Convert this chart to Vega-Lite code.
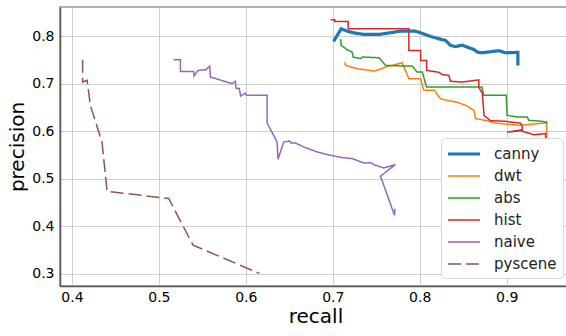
{
  "$schema": "https://vega.github.io/schema/vega-lite/v6.json",
  "width": 511,
  "height": 279,
  "autosize": {"type": "none"},
  "padding": {"left": 60, "top": 7, "right": 0, "bottom": 50},
  "background": "white",
  "config": {
    "font": "DejaVu Sans",
    "view": {"stroke": "#b0b0b0", "strokeWidth": 2},
    "axis": {
      "grid": true, "gridColor": "#cfcfcf", "gridWidth": 1,
      "ticks": false, "domainColor": "#555555", "domainWidth": 1.5,
      "labelFont": "DejaVu Sans", "labelFontSize": 14, "labelColor": "#000000",
      "titleFont": "DejaVu Sans", "titleFontSize": 20, "titleFontWeight": "normal", "titleColor": "#000000"
    },
    "legend": {
      "orient": "bottom-right", "offset": 8, "fillColor": "white", "strokeColor": "#d8d8d8",
      "cornerRadius": 4, "padding": 6, "labelFont": "DejaVu Sans", "labelFontSize": 15,
      "labelColor": "#222222", "symbolSize": 256, "symbolType": "M-1.125,0H2.875", "symbolFillColor": "transparent",
      "rowPadding": 5, "labelOffset": 27, "title": null
    }
  },
  "data": {"values": [
    {"s":"canny","i":0,"r":0.701,"p":0.789},
    {"s":"canny","i":1,"r":0.7097,"p":0.8155},
    {"s":"canny","i":2,"r":0.7166,"p":0.8105},
    {"s":"canny","i":3,"r":0.724,"p":0.807},
    {"s":"canny","i":4,"r":0.7357,"p":0.8036},
    {"s":"canny","i":5,"r":0.753,"p":0.8036},
    {"s":"canny","i":6,"r":0.766,"p":0.807},
    {"s":"canny","i":7,"r":0.778,"p":0.8105},
    {"s":"canny","i":8,"r":0.795,"p":0.8105},
    {"s":"canny","i":9,"r":0.801,"p":0.807},
    {"s":"canny","i":10,"r":0.8124,"p":0.7994},
    {"s":"canny","i":11,"r":0.824,"p":0.7935},
    {"s":"canny","i":12,"r":0.8297,"p":0.791},
    {"s":"canny","i":13,"r":0.8355,"p":0.7805},
    {"s":"canny","i":14,"r":0.841,"p":0.778},
    {"s":"canny","i":15,"r":0.849,"p":0.781},
    {"s":"canny","i":16,"r":0.8565,"p":0.7756},
    {"s":"canny","i":17,"r":0.8623,"p":0.772},
    {"s":"canny","i":18,"r":0.8662,"p":0.7664},
    {"s":"canny","i":19,"r":0.872,"p":0.765},
    {"s":"canny","i":20,"r":0.8815,"p":0.7672},
    {"s":"canny","i":21,"r":0.891,"p":0.7693},
    {"s":"canny","i":22,"r":0.8987,"p":0.765},
    {"s":"canny","i":23,"r":0.9129,"p":0.7658},
    {"s":"canny","i":24,"r":0.9129,"p":0.7384},

    {"s":"dwt","i":0,"r":0.7138,"p":0.7454},
    {"s":"dwt","i":1,"r":0.7146,"p":0.7385},
    {"s":"dwt","i":2,"r":0.728,"p":0.7315},
    {"s":"dwt","i":3,"r":0.748,"p":0.7265},
    {"s":"dwt","i":4,"r":0.7607,"p":0.735},
    {"s":"dwt","i":5,"r":0.7798,"p":0.7441},
    {"s":"dwt","i":6,"r":0.7875,"p":0.7105},
    {"s":"dwt","i":7,"r":0.801,"p":0.7105},
    {"s":"dwt","i":8,"r":0.8047,"p":0.686},
    {"s":"dwt","i":9,"r":0.817,"p":0.686},
    {"s":"dwt","i":10,"r":0.824,"p":0.668},
    {"s":"dwt","i":11,"r":0.8355,"p":0.6634},
    {"s":"dwt","i":12,"r":0.843,"p":0.661},
    {"s":"dwt","i":13,"r":0.853,"p":0.6544},
    {"s":"dwt","i":14,"r":0.8623,"p":0.644},
    {"s":"dwt","i":15,"r":0.8642,"p":0.6265},
    {"s":"dwt","i":16,"r":0.8777,"p":0.622},
    {"s":"dwt","i":17,"r":0.8853,"p":0.6175},
    {"s":"dwt","i":18,"r":0.9007,"p":0.6145},
    {"s":"dwt","i":19,"r":0.916,"p":0.6124},
    {"s":"dwt","i":20,"r":0.93,"p":0.615},
    {"s":"dwt","i":21,"r":0.946,"p":0.6175},
    {"s":"dwt","i":22,"r":0.946,"p":0.581},

    {"s":"abs","i":0,"r":0.709,"p":0.794},
    {"s":"abs","i":1,"r":0.7097,"p":0.7805},
    {"s":"abs","i":2,"r":0.7166,"p":0.7714},
    {"s":"abs","i":3,"r":0.7223,"p":0.7664},
    {"s":"abs","i":4,"r":0.7235,"p":0.756},
    {"s":"abs","i":5,"r":0.7319,"p":0.7525},
    {"s":"abs","i":6,"r":0.734,"p":0.756},
    {"s":"abs","i":7,"r":0.753,"p":0.7546},
    {"s":"abs","i":8,"r":0.7607,"p":0.7385},
    {"s":"abs","i":9,"r":0.7817,"p":0.737},
    {"s":"abs","i":10,"r":0.7914,"p":0.737},
    {"s":"abs","i":11,"r":0.797,"p":0.7244},
    {"s":"abs","i":12,"r":0.803,"p":0.7244},
    {"s":"abs","i":13,"r":0.8078,"p":0.693},
    {"s":"abs","i":14,"r":0.8715,"p":0.693},
    {"s":"abs","i":15,"r":0.8737,"p":0.6754},
    {"s":"abs","i":16,"r":0.8995,"p":0.6754},
    {"s":"abs","i":17,"r":0.9005,"p":0.6334},
    {"s":"abs","i":18,"r":0.912,"p":0.63},
    {"s":"abs","i":19,"r":0.9237,"p":0.63},
    {"s":"abs","i":20,"r":0.9255,"p":0.6229},
    {"s":"abs","i":21,"r":0.937,"p":0.6214},
    {"s":"abs","i":22,"r":0.946,"p":0.6193},
    {"s":"abs","i":23,"r":0.946,"p":0.615},

    {"s":"hist","i":0,"r":0.6976,"p":0.8344},
    {"s":"hist","i":1,"r":0.7023,"p":0.8344},
    {"s":"hist","i":2,"r":0.7023,"p":0.831},
    {"s":"hist","i":3,"r":0.7177,"p":0.831},
    {"s":"hist","i":4,"r":0.7177,"p":0.8155},
    {"s":"hist","i":5,"r":0.7875,"p":0.8155},
    {"s":"hist","i":6,"r":0.7875,"p":0.77},
    {"s":"hist","i":7,"r":0.801,"p":0.77},
    {"s":"hist","i":8,"r":0.801,"p":0.749},
    {"s":"hist","i":9,"r":0.808,"p":0.749},
    {"s":"hist","i":10,"r":0.808,"p":0.728},
    {"s":"hist","i":11,"r":0.822,"p":0.724},
    {"s":"hist","i":12,"r":0.826,"p":0.719},
    {"s":"hist","i":13,"r":0.8335,"p":0.7175},
    {"s":"hist","i":14,"r":0.8355,"p":0.705},
    {"s":"hist","i":15,"r":0.849,"p":0.7034},
    {"s":"hist","i":16,"r":0.868,"p":0.708},
    {"s":"hist","i":17,"r":0.868,"p":0.692},
    {"s":"hist","i":18,"r":0.872,"p":0.68},
    {"s":"hist","i":19,"r":0.874,"p":0.633},
    {"s":"hist","i":20,"r":0.8815,"p":0.622},
    {"s":"hist","i":21,"r":0.8968,"p":0.621},
    {"s":"hist","i":22,"r":0.916,"p":0.617},
    {"s":"hist","i":23,"r":0.918,"p":0.61},
    {"s":"hist","i":24,"r":0.918,"p":0.603},
    {"s":"hist","i":25,"r":0.9007,"p":0.598},
    {"s":"hist","i":26,"r":0.916,"p":0.601},
    {"s":"hist","i":27,"r":0.9313,"p":0.5925},
    {"s":"hist","i":28,"r":0.9448,"p":0.595},
    {"s":"hist","i":29,"r":0.9448,"p":0.581},

    {"s":"naive","i":0,"r":0.517,"p":0.7504},
    {"s":"naive","i":1,"r":0.5248,"p":0.7504},
    {"s":"naive","i":2,"r":0.5248,"p":0.7258},
    {"s":"naive","i":3,"r":0.54,"p":0.7258},
    {"s":"naive","i":4,"r":0.5405,"p":0.716},
    {"s":"naive","i":5,"r":0.5445,"p":0.727},
    {"s":"naive","i":6,"r":0.549,"p":0.729},
    {"s":"naive","i":7,"r":0.5535,"p":0.7285},
    {"s":"naive","i":8,"r":0.5585,"p":0.737},
    {"s":"naive","i":9,"r":0.5593,"p":0.714},
    {"s":"naive","i":10,"r":0.5842,"p":0.7},
    {"s":"naive","i":11,"r":0.588,"p":0.705},
    {"s":"naive","i":12,"r":0.589,"p":0.69},
    {"s":"naive","i":13,"r":0.5925,"p":0.69},
    {"s":"naive","i":14,"r":0.594,"p":0.674},
    {"s":"naive","i":15,"r":0.5995,"p":0.68},
    {"s":"naive","i":16,"r":0.6007,"p":0.6754},
    {"s":"naive","i":17,"r":0.6245,"p":0.6754},
    {"s":"naive","i":18,"r":0.6245,"p":0.6173},
    {"s":"naive","i":19,"r":0.636,"p":0.5773},
    {"s":"naive","i":20,"r":0.637,"p":0.541},
    {"s":"naive","i":21,"r":0.6436,"p":0.5773},
    {"s":"naive","i":22,"r":0.6505,"p":0.5794},
    {"s":"naive","i":23,"r":0.652,"p":0.5752},
    {"s":"naive","i":24,"r":0.657,"p":0.5752},
    {"s":"naive","i":25,"r":0.6667,"p":0.5668},
    {"s":"naive","i":26,"r":0.682,"p":0.5563},
    {"s":"naive","i":27,"r":0.6973,"p":0.5494},
    {"s":"naive","i":28,"r":0.7108,"p":0.5445},
    {"s":"naive","i":29,"r":0.7223,"p":0.5424},
    {"s":"naive","i":30,"r":0.7357,"p":0.5332},
    {"s":"naive","i":31,"r":0.7434,"p":0.5335},
    {"s":"naive","i":32,"r":0.749,"p":0.5284},
    {"s":"naive","i":33,"r":0.7587,"p":0.5227},
    {"s":"naive","i":34,"r":0.772,"p":0.5298},
    {"s":"naive","i":35,"r":0.7549,"p":0.5053},
    {"s":"naive","i":36,"r":0.771,"p":0.4233},
    {"s":"naive","i":37,"r":0.7715,"p":0.437},

    {"s":"pyscene","i":0,"r":0.4123,"p":0.7504},
    {"s":"pyscene","i":1,"r":0.4123,"p":0.7034},
    {"s":"pyscene","i":2,"r":0.4175,"p":0.707},
    {"s":"pyscene","i":3,"r":0.4212,"p":0.654},
    {"s":"pyscene","i":4,"r":0.4346,"p":0.577},
    {"s":"pyscene","i":5,"r":0.4405,"p":0.4735},
    {"s":"pyscene","i":6,"r":0.5113,"p":0.4584},
    {"s":"pyscene","i":7,"r":0.5393,"p":0.3603},
    {"s":"pyscene","i":8,"r":0.6157,"p":0.3008}
  ]},
  "mark": {"type": "line", "strokeJoin": "miter", "clip": true},
  "encoding": {
    "x": {"field": "r", "type": "quantitative", "title": "recall",
          "scale": {"domain": [0.3863, 0.974], "nice": false, "zero": false},
          "axis": {"values": [0.4, 0.5, 0.6, 0.7, 0.8, 0.9], "format": ".1f", "labelPadding": 4, "titlePadding": 2, "titleFontSize": 20}},
    "y": {"field": "p", "type": "quantitative", "title": "precision",
          "scale": {"domain": [0.2743, 0.8613], "nice": false, "zero": false},
          "axis": {"values": [0.3, 0.4, 0.5, 0.6, 0.7, 0.8], "format": ".1f", "labelPadding": 6, "titlePadding": 4, "titleFontSize": 20}},
    "order": {"field": "i", "type": "quantitative"},
    "color": {"field": "s", "type": "nominal",
              "scale": {"domain": ["canny","dwt","abs","hist","naive","pyscene"],
                        "range": ["#1f77b4","#ff7f0e","#2ca02c","#d62728","#9467bd","#8c564b"]},
              "legend": {"encode": {"symbols": {"update": {"strokeWidth": {"signal": "datum.value === 'canny' ? 3.2 : 1.6"}}}}}},
    "strokeWidth": {"field": "s", "type": "nominal", "legend": null,
              "scale": {"type": "ordinal", "domain": ["canny","dwt","abs","hist","naive","pyscene"],
                        "range": [3.2, 1.5, 1.5, 1.5, 1.5, 1.5]}},
    "strokeDash": {"field": "s", "type": "nominal",
              "scale": {"domain": ["canny","dwt","abs","hist","naive","pyscene"],
                        "range": [[1,0],[1,0],[1,0],[1,0],[1,0],[13,5]]}}
  }
}
